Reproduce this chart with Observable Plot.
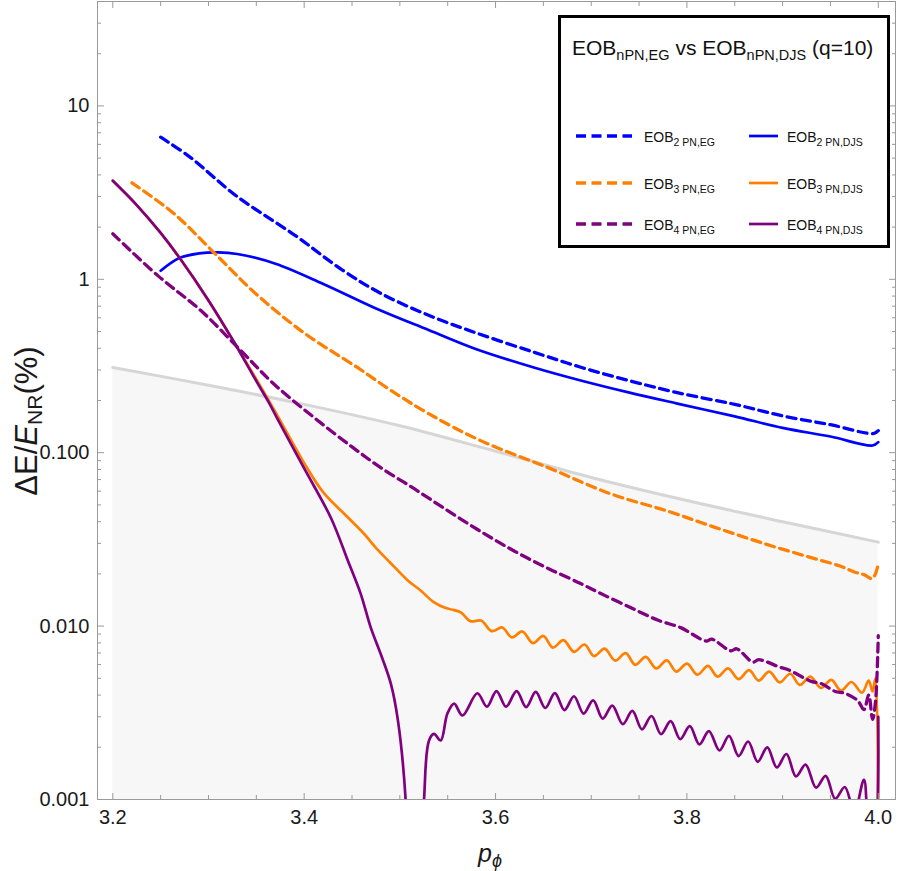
<!DOCTYPE html>
<html>
<head>
<meta charset="utf-8">
<script src="https://cdn.jsdelivr.net/npm/d3@7"></script>
<script src="https://cdn.jsdelivr.net/npm/@observablehq/plot@0.6"></script>
<style>
  body { margin: 0; background: #fff; }
  #chart { width: 900px; height: 871px; }
  #chart svg { display: block; }
</style>
</head>
<body>
<div id="chart"></div>
<script>
// Energy-flux difference between EOB variants and NR, q = 10
// x: orbital angular momentum p_phi ; y: |ΔE/E_NR| in percent

// Axis ticks
const xTicks = [3.2, 3.4, 3.6, 3.8, 4.0];
const xMinorTicks = [3.25, 3.3, 3.35, 3.45, 3.5, 3.55, 3.65, 3.7, 3.75, 3.85, 3.9, 3.95];
const yTicks = [0.001, 0.01, 0.1, 1, 10];
const yTickLabels = ["0.001", "0.010", "0.100", "1", "10"];
const yMinorTicks = [
  0.002, 0.003, 0.004, 0.005, 0.006, 0.007, 0.008, 0.009,
  0.02, 0.03, 0.04, 0.05, 0.06, 0.07, 0.08, 0.09,
  0.2, 0.3, 0.4, 0.5, 0.6, 0.7, 0.8, 0.9,
  2, 3, 4, 5, 6, 7, 8, 9, 20, 30
];

// NR error band (upper edge)
const pBand = [3.2, 3.3, 3.4, 3.5, 3.6, 3.7, 3.8, 3.9, 4.0];
const eBand = [0.31, 0.245, 0.19, 0.143, 0.102, 0.072, 0.053, 0.04, 0.0305];

// EOB 2PN, EG
const p2EG = [3.25, 3.28, 3.33, 3.39, 3.44, 3.48, 3.53, 3.58, 3.64, 3.69, 3.74, 3.79, 3.85, 3.90, 3.95, 3.995, 4.0];
const e2EG = [6.6, 5.1, 3.0, 1.8, 1.13, 0.83, 0.62, 0.49, 0.38, 0.31, 0.26, 0.222, 0.19, 0.163, 0.145, 0.129, 0.134];

// EOB 2PN, DJS
const p2DJS = [3.25, 3.27, 3.29, 3.31, 3.33, 3.37, 3.42, 3.48, 3.53, 3.58, 3.64, 3.69, 3.74, 3.79, 3.85, 3.90, 3.95, 3.994, 4.0];
const e2DJS = [1.12, 1.33, 1.41, 1.43, 1.40, 1.23, 0.94, 0.66, 0.51, 0.395, 0.31, 0.26, 0.222, 0.192, 0.162, 0.139, 0.124, 0.110, 0.115];

// EOB 3PN, EG
const p3EG = [3.22, 3.264, 3.306, 3.35, 3.40, 3.456, 3.49, 3.53, 3.585, 3.655, 3.72, 3.78, 3.83, 3.88, 3.93, 3.96, 3.975, 3.985, 3.994, 4.0];
const e3EG = [3.6, 2.39, 1.42, 0.82, 0.49, 0.309, 0.23, 0.168, 0.117, 0.082, 0.058, 0.046, 0.037, 0.030, 0.0248, 0.0222, 0.0205, 0.0198, 0.0188, 0.0228];

// EOB 3PN, DJS
const p3DJS = [
  3.2, 3.225, 3.25, 3.271, 3.299, 3.3265, 3.3515, 3.3725, 3.40, 3.42, 3.445, 3.462, 3.477, 3.49, 3.508, 3.522, 3.535, 3.548, 3.556,
  3.564, 3.574, 3.585, 3.596, 3.607, 3.617, 3.628, 3.639, 3.650, 3.660, 3.671, 3.682, 3.693, 3.703, 3.714, 3.725, 3.736, 3.746,
  3.757, 3.768, 3.779, 3.789, 3.800, 3.811, 3.822, 3.832, 3.843, 3.854, 3.865, 3.875, 3.886, 3.897, 3.908, 3.918, 3.929, 3.940,
  3.951, 3.961, 3.972, 3.983, 3.990, 3.994, 3.997, 4.0
];
const e3DJS = [
  3.7, 2.68, 1.85, 1.30, 0.77, 0.436, 0.257, 0.162, 0.087, 0.059, 0.0427, 0.0343, 0.0275, 0.0232, 0.0184, 0.016, 0.0138, 0.0127, 0.0124,
  0.01197, 0.01067, 0.01076, 0.00935, 0.00982, 0.00861, 0.00931, 0.00798, 0.00877, 0.00752, 0.00830, 0.00710, 0.00783, 0.00671, 0.00741, 0.00632, 0.00698, 0.00598,
  0.00664, 0.00570, 0.00634, 0.00546, 0.00607, 0.00525, 0.00589, 0.00511, 0.00571, 0.00495, 0.00557, 0.00485, 0.00546, 0.00474, 0.00531, 0.00458, 0.00511, 0.00440,
  0.00490, 0.00425, 0.00476, 0.00413, 0.00485, 0.0042, 0.0050, 0.0004
];

// EOB 4PN, EG
const p4EG = [
  3.2, 3.247, 3.292, 3.334, 3.368, 3.41, 3.45, 3.48, 3.515, 3.55, 3.585, 3.619, 3.655, 3.689, 3.71, 3.741, 3.77, 3.7935,
  3.82, 3.826, 3.846, 3.852, 3.869, 3.875, 3.898, 3.906, 3.93, 3.94, 3.955, 3.965, 3.9785, 3.985, 3.99, 3.994, 3.997, 4.0
];
const e4EG = [
  1.83, 1.05, 0.66, 0.387, 0.25, 0.16, 0.108, 0.082, 0.062, 0.0463, 0.035, 0.0272, 0.0215, 0.0176, 0.0154, 0.0128, 0.0108, 0.0098,
  0.0082, 0.0084, 0.0072, 0.0074, 0.0062, 0.0064, 0.00577, 0.0056, 0.0048, 0.00467, 0.0042, 0.0041, 0.00372, 0.0033, 0.0040, 0.0029, 0.0036, 0.0088
];

// EOB 4PN, DJS
const p4DJS = [
  3.2, 3.225, 3.25, 3.271, 3.299, 3.3265, 3.3515, 3.363, 3.3725, 3.3996, 3.428, 3.4456, 3.459, 3.4696, 3.48, 3.4905, 3.498, 3.506, 3.5155,
  3.5253, 3.5305, 3.5357, 3.5427, 3.5497, 3.5567, 3.5654,
  3.581, 3.591, 3.601, 3.611, 3.622, 3.632, 3.642, 3.652, 3.662, 3.672, 3.682, 3.692, 3.702, 3.712, 3.722, 3.733, 3.743, 3.753,
  3.763, 3.773, 3.783, 3.793, 3.803, 3.813, 3.823, 3.834, 3.844, 3.854, 3.864, 3.874, 3.884, 3.894, 3.904, 3.914, 3.924, 3.935,
  3.945, 3.955, 3.965, 3.975, 3.985, 3.99, 3.996, 4.0
];
const e4DJS = [
  3.7, 2.68, 1.85, 1.30, 0.77, 0.436, 0.25, 0.195, 0.155, 0.082, 0.042, 0.0239, 0.0154, 0.0098, 0.0069, 0.00467, 0.00285, 0.001, 0.00001,
  0.001, 0.00219, 0.00239, 0.00219, 0.00313, 0.00357, 0.00305,
  0.0041, 0.00343, 0.00422, 0.00343, 0.00422, 0.00341, 0.00417, 0.00337, 0.00411, 0.00328, 0.00394, 0.00313, 0.00373, 0.00293, 0.00348, 0.00272, 0.00324, 0.00254,
  0.00303, 0.00238, 0.00283, 0.00223, 0.00265, 0.00208, 0.00248, 0.00192, 0.00233, 0.00178, 0.00216, 0.00165, 0.00200, 0.00153, 0.00183, 0.00136, 0.00159, 0.00117,
  0.00137, 0.00101, 0.00118, 0.00085, 0.0013, 0.0007, 0.0006, 0.0030
];

const seriesNames = ["EOB2PN,EG", "EOB2PN,DJS", "EOB3PN,EG", "EOB3PN,DJS", "EOB4PN,EG", "EOB4PN,DJS"];
const seriesColors = ["#0000ff", "#0000ff", "#ff8000", "#ff8000", "#800080", "#800080"];
const seriesDashed = [true, false, true, false, true, false];
const seriesP = [p2EG, p2DJS, p3EG, p3DJS, p4EG, p4DJS];
const seriesE = [e2EG, e2DJS, e3EG, e3DJS, e4EG, e4DJS];

const xDomain = [3.184, 4.018];
const yDomain = [0.001, 40];

const rows = (p, e) => p.map((x, i) => ({p: x, e: e[i]}));
const band = rows(pBand, eBand);

const font = "'Liberation Sans', Arial, sans-serif";
const frameGray = "#9a9a9a";

const lineMarks = seriesP.map((p, i) => Plot.line(rows(p, seriesE[i]), {
  x: "p", y: "e",
  stroke: seriesColors[i],
  strokeWidth: seriesDashed[i] ? 3.3 : 2.7,
  strokeDasharray: seriesDashed[i] ? "9,5.5" : null,
  strokeLinejoin: "round",
  curve: "catmull-rom",
  clip: true
}));

const plot = Plot.plot({
  width: 900,
  height: 871,
  marginLeft: 97,
  marginRight: 5,
  marginTop: 1,
  marginBottom: 72,
  style: {fontFamily: font, background: "#fff", overflow: "visible"},
  x: {domain: xDomain, axis: null},
  y: {type: "log", domain: yDomain, axis: null},
  marks: [
    Plot.areaY(band, {x: "p", y1: yDomain[0], y2: "e", fill: "#f7f7f7", curve: "catmull-rom", clip: true}),
    Plot.line(band, {x: "p", y: "e", stroke: "#d6d6d6", strokeWidth: 3, curve: "catmull-rom", clip: true}),
    ...lineMarks,
    Plot.frame({stroke: frameGray, strokeWidth: 1}),
    // tick labels
    Plot.axisY(yTicks, {anchor: "left", tickSize: 0, tickPadding: 8, label: null, fontSize: 20, color: "#1a1a1a",
      tickFormat: d => yTickLabels[yTicks.indexOf(d)]}),
    Plot.axisX(xTicks, {anchor: "bottom", tickSize: 0, tickPadding: 10, label: null, fontSize: 20, color: "#1a1a1a",
      tickFormat: d => d.toFixed(1)}),
    // inward ticks on all four sides
    Plot.axisY(yTicks, {anchor: "left", tickSize: -7, label: null, color: frameGray, tickFormat: () => ""}),
    Plot.axisY(yMinorTicks, {anchor: "left", tickSize: -4, label: null, color: frameGray, tickFormat: () => ""}),
    Plot.axisY(yTicks, {anchor: "right", tickSize: -7, label: null, color: frameGray, tickFormat: () => ""}),
    Plot.axisY(yMinorTicks, {anchor: "right", tickSize: -4, label: null, color: frameGray, tickFormat: () => ""}),
    Plot.axisX(xTicks, {anchor: "bottom", tickSize: -6, label: null, color: frameGray, tickFormat: () => ""}),
    Plot.axisX(xMinorTicks, {anchor: "bottom", tickSize: -4, label: null, color: frameGray, tickFormat: () => ""}),
    Plot.axisX(xTicks, {anchor: "top", tickSize: -6, label: null, color: frameGray, tickFormat: () => ""}),
    Plot.axisX(xMinorTicks, {anchor: "top", tickSize: -4, label: null, color: frameGray, tickFormat: () => ""})
  ]
});

document.getElementById("chart").appendChild(plot);

const svg = d3.select(plot);

// Axis titles
const yTitle = svg.append("text")
  .attr("transform", "translate(37,421) rotate(-90)")
  .attr("text-anchor", "middle")
  .attr("font-family", font)
  .attr("font-size", 31)
  .attr("fill", "#1a1a1a");
yTitle.append("tspan").text("ΔE/");
yTitle.append("tspan").attr("font-style", "italic").text("E");
yTitle.append("tspan").attr("font-size", 21).attr("dy", 5).text("NR");
yTitle.append("tspan").attr("dy", -5).text("(%)");

const xTitle = svg.append("text")
  .attr("x", 490).attr("y", 862)
  .attr("text-anchor", "middle")
  .attr("font-family", font)
  .attr("font-size", 25)
  .attr("font-style", "italic")
  .attr("fill", "#1a1a1a");
xTitle.append("tspan").text("p");
xTitle.append("tspan").attr("font-size", 18).attr("dy", 5).text("ϕ");

// Legend box
const lg = svg.append("g").attr("font-family", font).attr("fill", "#111").attr("text-anchor", "start");
lg.append("rect")
  .attr("x", 559.5).attr("y", 16.5).attr("width", 329).attr("height", 230)
  .attr("fill", "#fff").attr("stroke", "#000").attr("stroke-width", 3);

const title = lg.append("text").attr("x", 572).attr("y", 55).attr("font-size", 21).attr("text-anchor", "start");
title.append("tspan").text("EOB");
title.append("tspan").attr("font-size", 14.5).attr("dy", 5).text("nPN,EG");
title.append("tspan").attr("dy", -5).text(" vs EOB");
title.append("tspan").attr("font-size", 14.5).attr("dy", 5).text("nPN,DJS");
title.append("tspan").attr("dy", -5).text(" (q=10)");

const rowY = [136, 183, 224];
seriesNames.forEach((name, i) => {
  const r = Math.floor(i / 2);
  const dashed = seriesDashed[i];
  const x0 = dashed ? 576 : 749;
  const x1 = dashed ? 632 : 778;
  const tx = dashed ? 644 : 787;
  const y = rowY[r];
  lg.append("line")
    .attr("x1", x0).attr("x2", x1).attr("y1", y).attr("y2", y)
    .attr("stroke", seriesColors[i])
    .attr("stroke-width", dashed ? 3.3 : 2.7)
    .attr("stroke-dasharray", dashed ? "10,5.5" : null);
  const order = name.match(/^EOB(\d)PN,(.*)$/);
  const t = lg.append("text").attr("x", tx).attr("y", y + 6).attr("font-size", 14).attr("text-anchor", "start");
  t.append("tspan").text("EOB");
  t.append("tspan").attr("font-size", 10.5).attr("dy", 3.5).text(order[1] + " PN," + order[2]);
});
</script>
</body>
</html>
